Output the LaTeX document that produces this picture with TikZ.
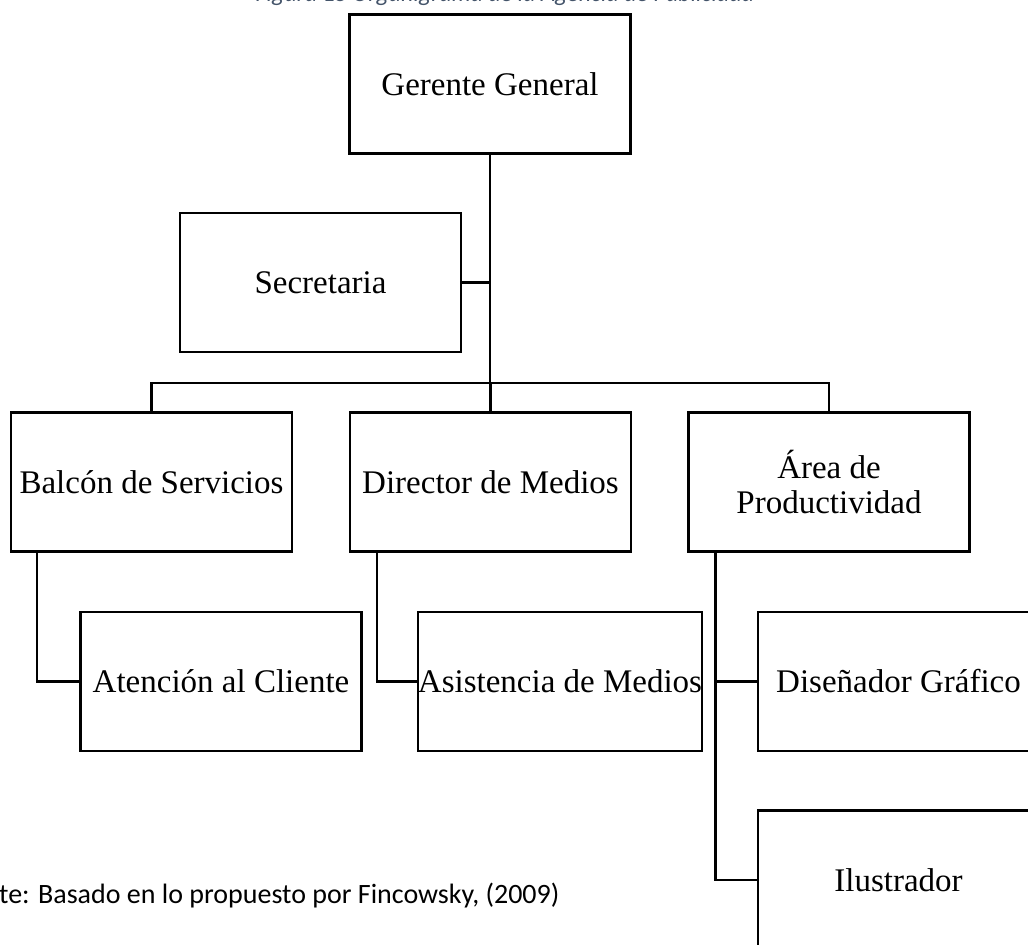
\documentclass[tikz,border=0pt]{standalone}
\usepackage{fontspec}
\setmainfont{Liberation Serif}
\newfontfamily\calibri{Carlito}
\definecolor{captionblue}{RGB}{68,84,106}
\usepackage{tikz}
\usetikzlibrary{positioning,calc}

\begin{document}
\begin{tikzpicture}[x=0.5pt, y=-0.5pt, line width=1.2pt,
    unidad/.style={draw, rectangle, minimum width=140.5pt, minimum height=69.5pt,
        inner sep=1pt, align=center, font=\fontsize{16.5}{17.5}\selectfont}]
    % Page frame
    \useasboundingbox (0,0) rectangle (1028,944);

    % Caption (cut at the top)
    \node[anchor=base, text=captionblue, font=\calibri\itshape\fontsize{12}{14}\selectfont]
        (titulo) at (505,1) {Figura 15 Organigrama de la Agencia de Publicidad};

    % Top
    \node[unidad] (gerente) at (490,84) {Gerente General};
    \node[unidad] (secretaria) at (320.5,282.5) {Secretaria};

    % Second row
    \node[unidad] (balcon) at (151.5,482) {Balcón de Servicios};
    \node[unidad] (director) at (490.5,482) {Director de Medios};
    \node[unidad] (area) at (829,482) {Área de\\Productividad};

    % Third row
    \node[unidad] (atencion) at (221,681.5) {Atención al Cliente};
    \node[unidad, inner sep=0pt] (asistencia) at (560,681.5) {Asistencia de Medios};
    \node[unidad] (disenador) at (898.5,681.5) {Diseñador Gráfico};
    \node[unidad] (ilustrador) at (898.5,880) {Ilustrador};

    % Connectors
    \coordinate (bus) at (490,383);
    \draw (gerente.south) -- (bus);
    \draw (secretaria.east) -- (secretaria.east -| bus);
    \draw (balcon.north) |- (bus) -| (area.north);
    \draw (director.north) -- (director.north |- bus);

    \draw ([xshift=13.5pt]balcon.south west) |- (atencion.west);
    \draw ([xshift=14pt]director.south west) |- (asistencia.west);
    \draw ([xshift=14pt]area.south west) |- (disenador.west);
    \draw ([xshift=14pt]area.south west) |- (ilustrador.west);

    % Source
    \node[anchor=base west, inner sep=0pt, font=\calibri\fontsize{14}{16}\selectfont]
        (fuente) at (-2,903) {te: Basado en lo propuesto por Fincowsky, (2009)};
\end{tikzpicture}
\end{document}
